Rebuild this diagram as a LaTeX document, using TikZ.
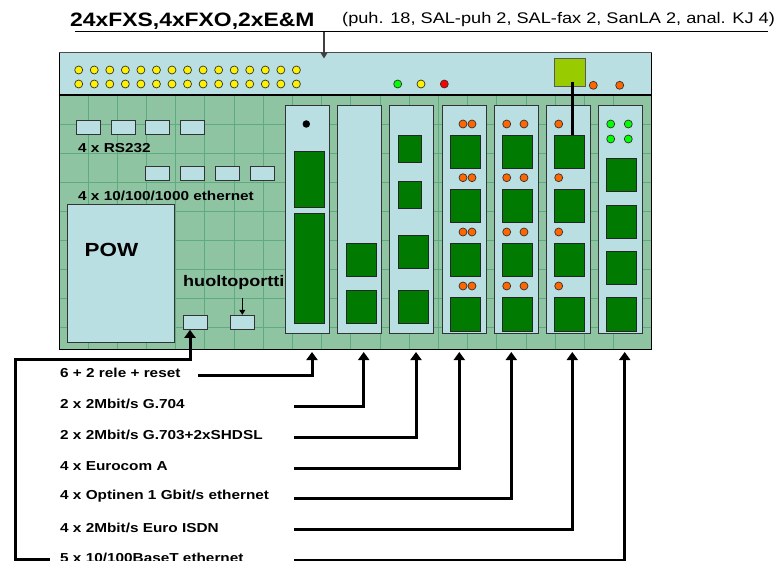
\documentclass[tikz,border=0pt]{standalone}
\usepackage{fontspec}
\usepackage{tikz}
\usetikzlibrary{arrows.meta}
\setmainfont[FakeStretch=1.18]{Liberation Sans}
\definecolor{boardgreen}{HTML}{8FC4A2}
\definecolor{boardline}{HTML}{5FAB80}
\definecolor{cardblue}{HTML}{BADFE2}
\definecolor{modgreen}{HTML}{007A00}
\definecolor{limebox}{HTML}{99CC00}
\definecolor{ledorange}{HTML}{FF6600}
\tikzset{
  panel/.style={draw=black!80, fill=cardblue, line width=1pt, inner sep=0pt},
  card/.style={panel, minimum width=44pt, minimum height=228pt},
  smallport/.style={panel, minimum width=24pt, minimum height=14pt},
  module/.style={draw=black!85, fill=modgreen, line width=1pt, inner sep=0pt, minimum width=30pt, minimum height=33pt},
  led/.style={circle, draw=black!80, line width=0.7pt, inner sep=0pt, minimum size=8pt},
  boldlabel/.style={font=\fontsize{13}{15}\selectfont\bfseries, anchor=west, inner sep=0pt},
  feed/.style={line width=3pt, -{Triangle[length=8pt,width=11pt]}},
}
\begin{document}
\begin{tikzpicture}[x=1pt, y=-1pt]
  \useasboundingbox (0,0) rectangle (779,561);
  % chassis
  \fill[boardgreen] (59,95) rectangle (651,349);
  \foreach \gx in {88,117.2,...,640}
    \draw[boardline, line width=0.7pt] (\gx,95) -- (\gx,349);
  \foreach \gy in {124,153,...,340}
    \draw[boardline, line width=0.7pt] (59,\gy) -- (651,\gy);
  \draw[black, line width=1pt] (59,95) rectangle (651,349);
  \node[draw=black, fill=cardblue, line width=1pt, inner sep=0pt, minimum width=592pt, minimum height=42pt] (topband) at (355,74) {};
  \draw[black!70, line width=1pt] (topband.north west) -- (topband.north east);
  \draw[black, line width=1.2pt] (topband.south west) -- (topband.south east);
  % leds on top band
  \foreach \i in {0,...,14} {
    \node[led, fill=yellow] (ledup\i) at (78.7+15.55*\i,70) {};
    \node[led, fill=yellow] (leddn\i) at (78.7+15.55*\i,84) {};
  }
  \node[led, fill=green] (ledok) at (397.7,84) {};
  \node[led, fill=yellow] (ledwarn) at (421,84) {};
  \node[led, fill=red] (ledalarm) at (444.3,84) {};
  \node[panel, fill=limebox, draw=black!65, minimum width=31.5pt, minimum height=28pt] (limepart) at (570.2,72.7) {};
  \node[led, fill=ledorange] (ledlimea) at (593.3,85.3) {};
  \node[led, fill=ledorange] (ledlimeb) at (619.7,85.3) {};
  % ports
  \foreach \i/\px in {1/88.3,2/123.2,3/157.9,4/192.7}
    \node[smallport] (rs\i) at (\px,127.7) {};
  \foreach \i/\px in {1/157.9,2/192.7,3/227.3,4/262.3}
    \node[smallport] (eth\i) at (\px,173.8) {};
  \node[boldlabel] (rslabel) at (78,148) {4 x RS232};
  \node[boldlabel] (ethlabel) at (78,195.5) {4 x 10/100/1000 ethernet};
  \node[panel, minimum width=107.5pt, minimum height=137.5pt] (pow) at (120.8,273.3) {};
  \node[font=\fontsize{19}{23}\selectfont\bfseries, inner sep=0pt] (powlabel) at (111.5,249.5) {POW};
  \node[font=\fontsize{15.3}{18}\selectfont\bfseries, anchor=west, inner sep=0pt] (huolto) at (183,283) {huoltoportti};
  \node[smallport] (relayport) at (195.3,322.3) {};
  \node[smallport] (serviceport) at (242.3,322.3) {};
  \coordinate (huoltotip) at (242.3,298);
  \draw[black, line width=1pt, -{Triangle[length=5pt,width=6pt]}] (huoltotip) -- (serviceport.north);
  % cards
  \foreach \c/\cx in {1/307.5,2/359.5,3/411.7,4/464.2,5/516.3,6/568.3,7/620.5}
    \node[card] (card\c) at (\cx,219.2) {};
  \node[circle, fill=black, inner sep=0pt, minimum size=7.5pt] (carddot) at (306.3,124) {};
  \node[module, minimum height=56pt] (mod11) at (309,179.3) {};
  \node[module, minimum height=110pt] (mod12) at (309,268.2) {};
  \node[module] (mod21) at (361,260.3) {};
  \node[module] (mod22) at (361,306.7) {};
  \node[module, minimum width=22.7pt, minimum height=26.6pt] (mod31) at (409.7,149) {};
  \node[module, minimum width=22.7pt, minimum height=26.6pt] (mod32) at (409.7,195.3) {};
  \node[module] (mod33) at (413,252.5) {};
  \node[module] (mod34) at (413,306.7) {};
  \foreach \c/\mx in {4/465.3,5/517.7,6/569.7}
    \foreach \r/\my in {1/152.2,2/206.2,3/260.5,4/314.5}
      \node[module] (mod\c\r) at (\mx,\my) {};
  \foreach \r/\my in {1/175.5,2/221.8,3/268,4/314.5}
    \node[module] (mod7\r) at (621.7,\my) {};
  \foreach \r/\ly in {1/124,2/177.7,3/232,4/286} {
    \node[led, fill=ledorange] (leda\r) at (463,\ly) {};
    \node[led, fill=ledorange] (ledb\r) at (472,\ly) {};
    \node[led, fill=ledorange] (ledc\r) at (506.7,\ly) {};
    \node[led, fill=ledorange] (ledd\r) at (524,\ly) {};
    \node[led, fill=ledorange] (lede\r) at (558.7,\ly) {};
  }
  \node[led, fill=green] (ledf1) at (610.7,124) {};
  \node[led, fill=green] (ledf2) at (628.3,124) {};
  \node[led, fill=green] (ledf3) at (610.7,139) {};
  \node[led, fill=green] (ledf4) at (628.3,139) {};
  \coordinate (limefoot) at (572.3,82.3);
  \draw[black, line width=3pt] (limefoot) -- (limefoot |- mod61.north);
  % title
  \node[font=\fontsize{19.4}{24}\selectfont\bfseries, anchor=west, inner sep=0pt] (title) at (70,21.5) {24xFXS,4xFXO,2xE\&M};
  \node[font=\fontsize{15.4}{18}\selectfont, anchor=west, inner sep=0pt] (subtitle) at (342,19.5) {(puh. 18, SAL-puh 2, SAL-fax 2, SanLA 2, anal. KJ 4)};
  \coordinate (ruleleft) at (75,32);
  \coordinate (ruleright) at (767.7,32);
  \coordinate (ruledrop) at (324,32);
  \draw[black, line width=1pt] (ruleleft) -- (ruleright);
  \draw[black!75, line width=1.2pt, -{Triangle[length=6pt,width=7pt]}] (ruledrop) -- (topband.north -| ruledrop) -- ++(0,6);
  % feeds
  \foreach \n/\ty/\fx/\tipx/\txt in {
      a/373/198.3/312/{6 + 2 rele + reset},
      b/404/294.3/363.7/{2 x 2Mbit/s G.704},
      c/435/294.3/416/{2 x 2Mbit/s G.703+2xSHDSL},
      d/466/294.3/459.3/{4 x Eurocom  A},
      e/496.5/294.3/511.3/{4 x Optinen 1 Gbit/s ethernet},
      f/527.5/294.3/572.3/{4 x 2Mbit/s Euro ISDN},
      g/558/294.3/624.7/{5 x 10/100BaseT ethernet}} {
    \node[boldlabel] (row\n) at (60,\ty) {\txt};
    \coordinate (start\n) at (\fx,\ty+2);
    \coordinate (tip\n) at (\tipx,352);
    \draw[feed] (start\n) -| (tip\n);
  }
  \coordinate (loopa) at (50,559);
  \coordinate (looptop) at (190,359.5);
  \draw[feed] (loopa) -- (15.7,559) |- (looptop) -- (looptop |- relayport.south);
\end{tikzpicture}
\end{document}
